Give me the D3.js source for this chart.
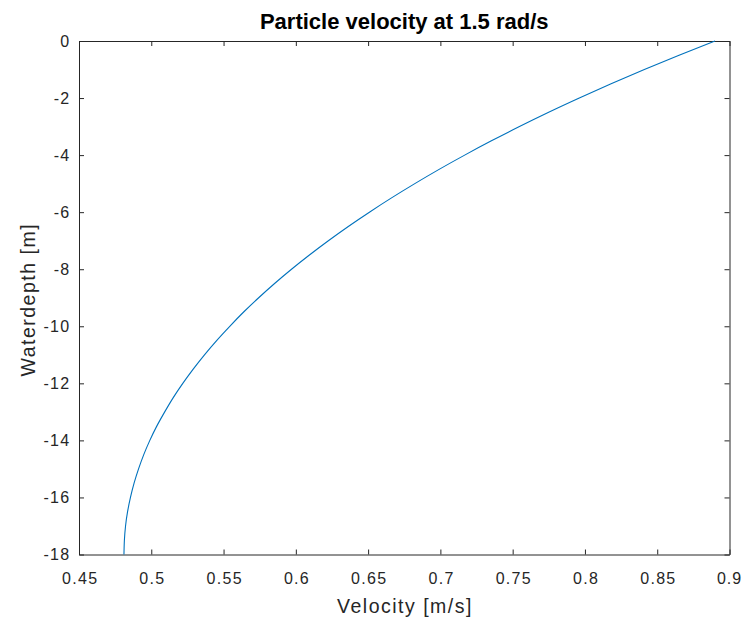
<!DOCTYPE html>
<html>
<head>
<meta charset="utf-8">
<script src="https://cdn.jsdelivr.net/npm/d3@7"></script>
<style>
  html, body { margin: 0; padding: 0; background: #fff; }
  svg { display: block; font-family: Arial, "Liberation Sans", Helvetica, sans-serif; }
</style>
</head>
<body>
<svg id="chart" width="742" height="621"></svg>
<script>
// Data
const depth = [0, -0.5, -1, -1.5, -2, -2.5, -3, -3.5, -4, -4.5, -5, -5.5, -6, -6.5, -7, -7.5, -8, -8.5, -9,
               -9.5, -10, -10.5, -11, -11.5, -12, -12.5, -13, -13.5, -14, -14.5, -15, -15.5, -16, -16.5, -17, -17.5, -18];
const velocity = [0.8900, 0.8651, 0.8411, 0.8181, 0.7961, 0.7749, 0.7547, 0.7353, 0.7168, 0.6991, 0.6823, 0.6662,
                  0.6509, 0.6363, 0.6225, 0.6094, 0.5970, 0.5853, 0.5743, 0.5639, 0.5543, 0.5452, 0.5368, 0.5290,
                  0.5218, 0.5152, 0.5093, 0.5038, 0.4990, 0.4948, 0.4912, 0.4881, 0.4856, 0.4836, 0.4822, 0.4814, 0.4811];
const xTicks = [0.45, 0.5, 0.55, 0.6, 0.65, 0.7, 0.75, 0.8, 0.85, 0.9];
const yTicks = [0, -2, -4, -6, -8, -10, -12, -14, -16, -18];
const titleText = "Particle velocity at 1.5 rad/s";
const xLabel = "Velocity [m/s]";
const yLabel = "Waterdepth [m]";

const svg = d3.select("#chart");
const mLeft = 79, mRight = 729.5, mTop = 41, mBottom = 554.5;
const axisColor = "#262626";

const x = d3.scaleLinear().domain([0.45, 0.9]).range([mLeft, mRight]);
const y = d3.scaleLinear().domain([-18, 0]).range([mBottom, mTop]);

const fmt = d => String(d);

// bottom axis
const gB = svg.append("g").attr("transform", `translate(0,${mBottom})`)
  .call(d3.axisBottom(x).tickValues(xTicks).tickFormat(fmt).tickSizeInner(-5).tickSizeOuter(0).tickPadding(18));
// top axis
const gT = svg.append("g").attr("transform", `translate(0,${mTop})`)
  .call(d3.axisTop(x).tickValues(xTicks).tickFormat("").tickSizeInner(-5).tickSizeOuter(0));
// left axis
const gL = svg.append("g").attr("transform", `translate(${mLeft},0)`)
  .call(d3.axisLeft(y).tickValues(yTicks).tickFormat(fmt).tickSizeInner(-5).tickSizeOuter(0).tickPadding(8.5));
// right axis
const gR = svg.append("g").attr("transform", `translate(${mRight},0)`)
  .call(d3.axisRight(y).tickValues(yTicks).tickFormat("").tickSizeInner(-5).tickSizeOuter(0));

[gB, gT, gL, gR].forEach(g => {
  g.select(".domain").attr("stroke", axisColor).attr("stroke-width", 1);
  g.selectAll(".tick line").attr("stroke", axisColor).attr("stroke-width", 1);
  g.selectAll(".tick text").attr("fill", axisColor)
    .style("font-size", "16px").style("letter-spacing", "1.3px");
});
gB.selectAll(".tick text").attr("dy", "0.71em").attr("dx", "0.65px");
// keep the last x tick label inside the picture edge
gB.selectAll(".tick text").filter(d => d === xTicks[xTicks.length - 1])
  .style("letter-spacing", "1px").attr("dx", "-0.5px");

// curve
const pts = depth.map((d, i) => [velocity[i], d]);
svg.append("path")
  .datum(pts)
  .attr("fill", "none")
  .attr("stroke", "#0072BD")
  .attr("stroke-width", 1.1)
  .attr("d", d3.line().x(d => x(d[0])).y(d => y(d[1])).curve(d3.curveNatural));

// title
svg.append("text")
  .attr("x", (mLeft + mRight) / 2).attr("y", 29)
  .attr("text-anchor", "middle")
  .attr("fill", "#000")
  .style("font-size", "22px").style("font-weight", "bold")
  .text(titleText);

// x label
svg.append("text")
  .attr("x", (mLeft + mRight) / 2 + 0.75).attr("y", 613)
  .attr("text-anchor", "middle")
  .attr("fill", axisColor)
  .style("font-size", "19.5px").style("letter-spacing", "1.5px")
  .text(xLabel);

// y label
svg.append("text")
  .attr("transform", `translate(35,${(mTop + mBottom) / 2 + 2}) rotate(-90)`)
  .attr("text-anchor", "middle")
  .attr("fill", axisColor)
  .style("font-size", "19.5px").style("letter-spacing", "1.5px")
  .text(yLabel);
</script>
</body>
</html>
